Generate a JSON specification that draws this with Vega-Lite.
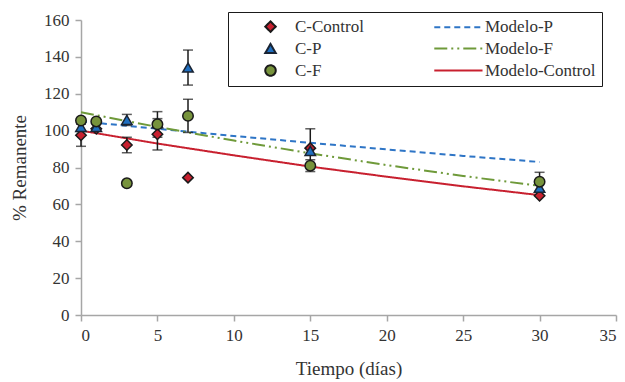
{
  "$schema": "https://vega.github.io/schema/vega-lite/v6.json",
  "width": 535,
  "height": 295,
  "autosize": "none",
  "padding": {"left": 81, "top": 20, "right": 9, "bottom": 67},
  "background": "white",
  "config": {
    "view": {"stroke": null},
    "font": "Liberation Serif, serif",
    "axis": {
      "grid": false,
      "domainColor": "#a6a6a6",
      "domainWidth": 1.5,
      "tickColor": "#a6a6a6",
      "tickWidth": 1.5,
      "tickSize": 6,
      "labelFont": "Liberation Serif, serif",
      "labelFontSize": 17,
      "labelColor": "#333333",
      "titleFont": "Liberation Serif, serif",
      "titleFontSize": 19,
      "titleFontWeight": "normal",
      "titleColor": "#333333"
    }
  },
  "datasets": {
    "pts": [
      {"t": 0, "series": "C-Control", "y": 97.5, "lo": 91.5, "hi": 103.5},
      {"t": 1, "series": "C-Control", "y": 101},
      {"t": 3, "series": "C-Control", "y": 92.2, "lo": 88, "hi": 96.4},
      {"t": 5, "series": "C-Control", "y": 98, "lo": 89.5, "hi": 106.5},
      {"t": 7, "series": "C-Control", "y": 74.5},
      {"t": 15, "series": "C-Control", "y": 90.5, "lo": 80, "hi": 101},
      {"t": 30, "series": "C-Control", "y": 64.7},
      {"t": 0, "series": "C-P", "y": 102},
      {"t": 1, "series": "C-P", "y": 102},
      {"t": 3, "series": "C-P", "y": 105.8, "lo": 102.8, "hi": 108.8},
      {"t": 5, "series": "C-P", "y": 104},
      {"t": 7, "series": "C-P", "y": 134.2, "lo": 124.7, "hi": 143.7},
      {"t": 15, "series": "C-P", "y": 89},
      {"t": 30, "series": "C-P", "y": 69},
      {"t": 0, "series": "C-F", "y": 105.5},
      {"t": 1, "series": "C-F", "y": 105},
      {"t": 3, "series": "C-F", "y": 71.4},
      {"t": 5, "series": "C-F", "y": 103.4, "lo": 96.4, "hi": 110.3},
      {"t": 7, "series": "C-F", "y": 108, "lo": 99, "hi": 117},
      {"t": 15, "series": "C-F", "y": 81, "lo": 77.8, "hi": 84.2},
      {"t": 30, "series": "C-F", "y": 72.3, "lo": 67.2, "hi": 77.4}
    ],
    "models": [
      {"t": 0, "series": "Modelo-P", "y": 105},
      {"t": 5, "series": "Modelo-P", "y": 101},
      {"t": 10, "series": "Modelo-P", "y": 97.1},
      {"t": 15, "series": "Modelo-P", "y": 93.4},
      {"t": 20, "series": "Modelo-P", "y": 89.8},
      {"t": 25, "series": "Modelo-P", "y": 86.3},
      {"t": 30, "series": "Modelo-P", "y": 83},
      {"t": 0, "series": "Modelo-F", "y": 110},
      {"t": 5, "series": "Modelo-F", "y": 102},
      {"t": 10, "series": "Modelo-F", "y": 94.6},
      {"t": 15, "series": "Modelo-F", "y": 87.7},
      {"t": 20, "series": "Modelo-F", "y": 81.3},
      {"t": 25, "series": "Modelo-F", "y": 75.4},
      {"t": 30, "series": "Modelo-F", "y": 70},
      {"t": 0, "series": "Modelo-Control", "y": 100},
      {"t": 5, "series": "Modelo-Control", "y": 93},
      {"t": 10, "series": "Modelo-Control", "y": 86.6},
      {"t": 15, "series": "Modelo-Control", "y": 80.5},
      {"t": 20, "series": "Modelo-Control", "y": 75},
      {"t": 25, "series": "Modelo-Control", "y": 69.8},
      {"t": 30, "series": "Modelo-Control", "y": 65}
    ]
  },
  "encoding": {
    "x": {
      "field": "t",
      "type": "quantitative",
      "scale": {"domain": [0, 35], "nice": false},
      "axis": {"values": [0, 5, 10, 15, 20, 25, 30, 35], "title": "Tiempo (días)", "labelPadding": 6, "titlePadding": 16}
    },
    "y": {
      "field": "y",
      "type": "quantitative",
      "scale": {"domain": [0, 160], "nice": false},
      "axis": {"values": [0, 20, 40, 60, 80, 100, 120, 140, 160], "title": "% Remanente", "labelPadding": 6, "titlePadding": 14}
    }
  },
  "layer": [
    {
      "data": {"name": "models"},
      "mark": {"type": "line", "strokeWidth": 2},
      "encoding": {
        "stroke": {
          "field": "series",
          "type": "nominal",
          "scale": {
            "domain": ["C-Control", "C-P", "C-F", "Modelo-P", "Modelo-F", "Modelo-Control"],
            "range": ["#1a1a1a", "#1a2433", "#1a1a1a", "#2e75c6", "#6f9a3a", "#c8202f"]
          },
          "legend": {
            "title": null,
            "orient": "none",
            "legendX": 147,
            "legendY": -8,
            "columns": 2,
            "columnPadding": 60,
            "rowPadding": 3,
            "padding": 6,
            "strokeColor": "#1a1a1a",
            "symbolSize": 110,
            "symbolStrokeWidth": 2,
            "symbolOffset": 28,
            "labelOffset": 16,
            "labelFont": "Liberation Serif, serif",
            "labelFontSize": 17,
            "labelColor": "#333333",
            "labelLimit": 300
          }
        },
        "strokeDash": {
          "field": "series",
          "type": "nominal",
          "scale": {
            "domain": ["C-Control", "C-P", "C-F", "Modelo-P", "Modelo-F", "Modelo-Control"],
            "range": [[1, 0], [1, 0], [1, 0], [6, 4], [13, 4, 2, 4, 2, 4], [1, 0]]
          }
        }
      }
    },
    {
      "data": {"name": "pts"},
      "mark": {"type": "rule", "color": "#1a1a1a", "strokeWidth": 1.5},
      "encoding": {"y": {"field": "lo", "type": "quantitative"}, "y2": {"field": "hi"}}
    },
    {
      "data": {"name": "pts"},
      "mark": {"type": "tick", "color": "#1a1a1a", "thickness": 1.5, "size": 10, "orient": "horizontal"},
      "encoding": {"y": {"field": "lo", "type": "quantitative"}}
    },
    {
      "data": {"name": "pts"},
      "mark": {"type": "tick", "color": "#1a1a1a", "thickness": 1.5, "size": 10, "orient": "horizontal"},
      "encoding": {"y": {"field": "hi", "type": "quantitative"}}
    },
    {
      "data": {"name": "pts"},
      "mark": {"type": "point", "filled": true, "opacity": 1, "strokeWidth": 1.5, "size": 110},
      "encoding": {
        "fill": {
          "field": "series",
          "type": "nominal",
          "scale": {
            "domain": ["C-Control", "C-P", "C-F", "Modelo-P", "Modelo-F", "Modelo-Control"],
            "range": ["#c8202f", "#1f6fc0", "#77933c", "transparent", "transparent", "transparent"]
          }
        },
        "stroke": {"field": "series", "type": "nominal"},
        "shape": {
          "field": "series",
          "type": "nominal",
          "scale": {
            "domain": ["C-Control", "C-P", "C-F", "Modelo-P", "Modelo-F", "Modelo-Control"],
            "range": ["diamond", "triangle-up", "circle", "M-5,0H4.2", "M-5,0H4.2", "M-5,0H4.2"]
          }
        }
      }
    }
  ]
}
